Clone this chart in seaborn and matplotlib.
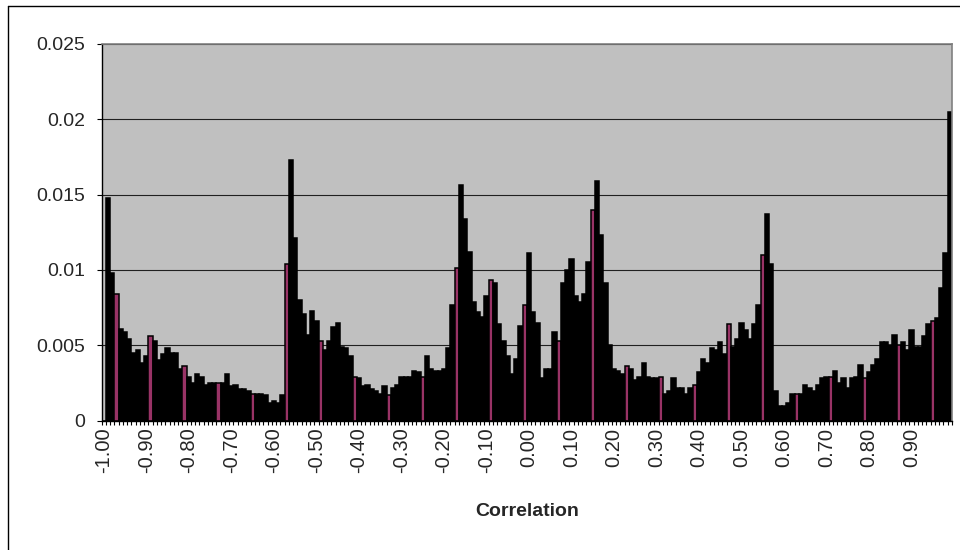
import numpy as np
import pandas as pd
import matplotlib
matplotlib.use("Agg")
import matplotlib.pyplot as plt
from matplotlib.lines import Line2D
from matplotlib.ticker import FixedLocator
import seaborn as sns

# correlation bins -1.00 .. 0.99 (one bar per 0.01)
bins = [f"{v:.2f}" for v in np.round(np.arange(-100, 100) / 100, 2)]

# relative frequency per bin
density = [
    0.0000, 0.0148, 0.0098, 0.0084, 0.0061, 0.0059, 0.0054, 0.0045, 0.0047, 0.0038,
    0.0043, 0.0056, 0.0053, 0.0040, 0.0044, 0.0048, 0.0045, 0.0045, 0.0034, 0.0036,
    0.0029, 0.0025, 0.0031, 0.0029, 0.0024, 0.0025, 0.0025, 0.0025, 0.0025, 0.0031,
    0.0023, 0.0024, 0.0021, 0.0021, 0.0020, 0.0018, 0.0018, 0.0018, 0.0017, 0.0012,
    0.0013, 0.0012, 0.0017, 0.0104, 0.0173, 0.0121, 0.0080, 0.0071, 0.0057, 0.0073,
    0.0066, 0.0053, 0.0047, 0.0053, 0.0062, 0.0065, 0.0049, 0.0048, 0.0043, 0.0029,
    0.0028, 0.0023, 0.0024, 0.0021, 0.0020, 0.0018, 0.0023, 0.0017, 0.0022, 0.0024,
    0.0029, 0.0029, 0.0029, 0.0033, 0.0032, 0.0029, 0.0043, 0.0034, 0.0033, 0.0033,
    0.0034, 0.0048, 0.0077, 0.0101, 0.0156, 0.0134, 0.0112, 0.0079, 0.0072, 0.0069,
    0.0083, 0.0093, 0.0091, 0.0064, 0.0053, 0.0043, 0.0031, 0.0041, 0.0063, 0.0077,
    0.0111, 0.0072, 0.0065, 0.0028, 0.0034, 0.0034, 0.0059, 0.0053, 0.0091, 0.0100,
    0.0107, 0.0083, 0.0079, 0.0084, 0.0105, 0.0140, 0.0159, 0.0123, 0.0091, 0.0050,
    0.0034, 0.0033, 0.0031, 0.0036, 0.0034, 0.0027, 0.0029, 0.0038, 0.0029, 0.0028,
    0.0028, 0.0029, 0.0018, 0.0020, 0.0028, 0.0022, 0.0022, 0.0018, 0.0022, 0.0024,
    0.0032, 0.0041, 0.0038, 0.0048, 0.0047, 0.0052, 0.0044, 0.0064, 0.0049, 0.0054,
    0.0065, 0.0060, 0.0054, 0.0064, 0.0077, 0.0110, 0.0137, 0.0104, 0.0020, 0.0010,
    0.0010, 0.0012, 0.0018, 0.0018, 0.0018, 0.0024, 0.0022, 0.0020, 0.0024, 0.0028,
    0.0029, 0.0029, 0.0033, 0.0025, 0.0028, 0.0022, 0.0028, 0.0029, 0.0037, 0.0028,
    0.0032, 0.0037, 0.0041, 0.0052, 0.0052, 0.0050, 0.0057, 0.0050, 0.0052, 0.0047,
    0.0060, 0.0049, 0.0049, 0.0056, 0.0064, 0.0066, 0.0068, 0.0088, 0.0111, 0.0205,
]

x_tick_labels = ["-1.00", "-0.90", "-0.80", "-0.70", "-0.60", "-0.50", "-0.40",
                 "-0.30", "-0.20", "-0.10", "0.00", "0.10", "0.20", "0.30",
                 "0.40", "0.50", "0.60", "0.70", "0.80", "0.90"]
y_ticks = [0, 0.005, 0.01, 0.015, 0.02, 0.025]
y_tick_labels = ["0", "0.005", "0.01", "0.015", "0.02", "0.025"]

df = pd.DataFrame({"Correlation": bins, "Density": density})

sns.set_style("white")
plt.rcParams["font.family"] = ["Liberation Sans", "DejaVu Sans"]

fig = plt.figure(figsize=(9.6, 5.5), dpi=100)
ax = fig.add_axes([101.7 / 960, 1 - 420.7 / 550, 850.3 / 960, 377 / 550])
ax.set_facecolor("#C0C0C0")

sns.barplot(data=df, x="Correlation", y="Density", order=bins, width=1.0,
            color="black", edgecolor="black", linewidth=1.1, saturation=1,
            errorbar=None, ax=ax)

# Excel rendering shows the maroon fill only on every 8th bar
for i, patch in enumerate(ax.patches):
    if i % 8 == 3:
        patch.set_facecolor("#993366")

ax.set_xlim(-0.5, len(bins) - 0.5)
ax.set_ylim(0, 0.025)

ax.set_xticks(range(0, len(bins), 10))
ax.set_xticklabels(x_tick_labels, rotation=90, fontsize=14.5)
ax.xaxis.set_minor_locator(FixedLocator(np.arange(-0.5, len(bins), 1)))
ax.tick_params(axis="x", which="major", length=0, pad=5)
ax.tick_params(axis="x", which="minor", bottom=True, length=3, width=0.8,
               color="black", direction="out")

ax.set_yticks(y_ticks)
ax.set_yticklabels(y_tick_labels, fontsize=14)
ax.tick_params(axis="y", left=True, length=3.6, width=0.8, color="black",
               direction="out", pad=8)

ax.yaxis.grid(True, color="#202020", linewidth=0.8)
ax.xaxis.grid(False)
ax.set_axisbelow(True)

for side in ["top", "right"]:
    ax.spines[side].set_color("#808080")
    ax.spines[side].set_linewidth(1.2)
for side in ["left", "bottom"]:
    ax.spines[side].set_color("black")
    ax.spines[side].set_linewidth(1.0)
    ax.spines[side].set_visible(True)

ax.set_ylabel("")
ax.set_xlabel("Correlation", fontsize=14, fontweight="bold")
ax.xaxis.set_label_coords(0.5, -(512 - 420.7) / 377)
ax.xaxis.label.set_va("center")

# chart area border (right and bottom edges fall outside the image)
bx, by = 7.5 / 960, 1 - 5.5 / 550
fig.add_artist(Line2D([bx, bx], [0, by], color="black", linewidth=1.0))
fig.add_artist(Line2D([bx, 1], [by, by], color="black", linewidth=1.0))

fig.savefig("out.png", dpi=100)
